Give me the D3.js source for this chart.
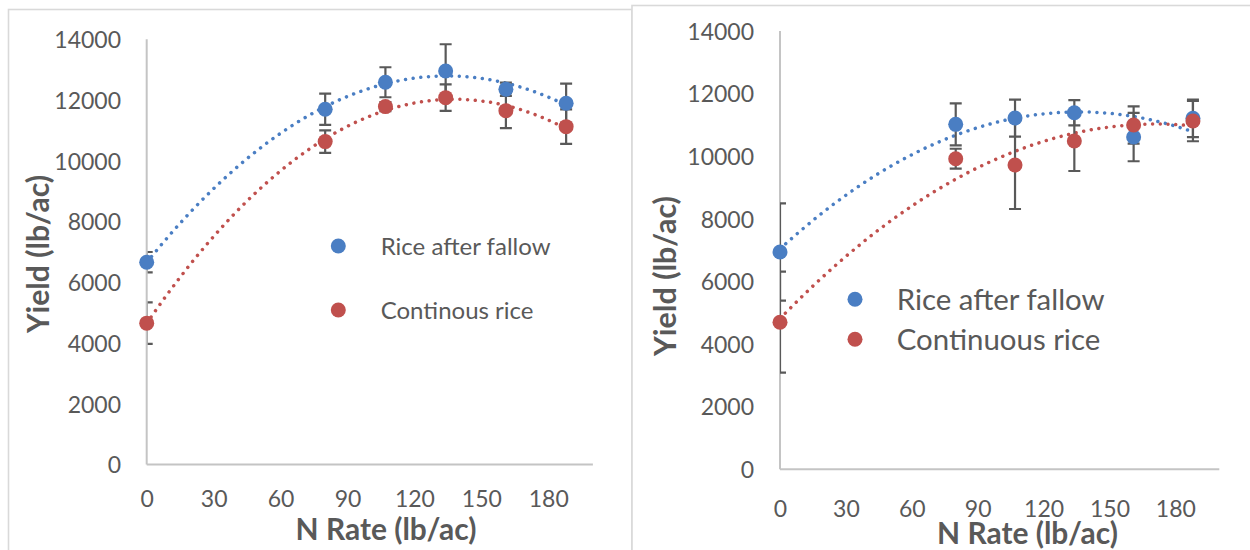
<!DOCTYPE html>
<html><head><meta charset="utf-8">
<script src="https://cdn.jsdelivr.net/npm/d3@7"></script>
<style>
html,body{margin:0;padding:0;background:#fff;}
svg{display:block;}
text{font-family:Lato,"Open Sans",sans-serif;fill:#595959;}
</style></head>
<body>
<svg id="c" width="1250" height="550"></svg>
<script>
// ---- data ----
const nRate = [0, 80, 107, 134, 161, 188];
const xTicks = [0, 30, 60, 90, 120, 150, 180];
const yTicks = [0, 2000, 4000, 6000, 8000, 10000, 12000, 14000];

const leftFallow     = [6663, 11698, 12586, 12958, 12356, 11895];
const leftFallowErr  = [336, 517, 494, 879, 217, 645];
const leftCont       = [4656, 10632, 11784, 12080, 11652, 11125];
const leftContErr    = [681, 372, 150, 438, 579, 569];
const leftLegend     = ["Rice after fallow", "Continous rice"];

const rightFallow    = [6940, 11019, 11220, 11389, 10613, 11210];
const rightFallowErr = [1555, 671, 591, 406, 773, 600];
const rightCont      = [4698, 9920, 9719, 10486, 10997, 11124];
const rightContErr   = [1613, 319, 1405, 958, 597, 645];
const rightLegend    = ["Rice after fallow", "Continuous rice"];

const xTitle = "N Rate (lb/ac)";
const yTitle = "Yield (lb/ac)";
const colors = ["#4a7ec3", "#c0504d"];

// ---- helpers ----
function quadFit(xs, ys) {
  let n = xs.length, s = [0,0,0,0,0], t = [0,0,0];
  for (let i = 0; i < n; i++) {
    const x = xs[i], y = ys[i];
    for (let k = 0; k < 5; k++) s[k] += Math.pow(x, k);
    for (let k = 0; k < 3; k++) t[k] += y * Math.pow(x, k);
  }
  const A = [[s[0],s[1],s[2],t[0]],[s[1],s[2],s[3],t[1]],[s[2],s[3],s[4],t[2]]];
  for (let i = 0; i < 3; i++) {
    for (let j = i+1; j < 3; j++) {
      const f = A[j][i] / A[i][i];
      for (let k = i; k < 4; k++) A[j][k] -= f * A[i][k];
    }
  }
  const c = [0,0,0];
  for (let i = 2; i >= 0; i--) {
    let v = A[i][3];
    for (let k = i+1; k < 3; k++) v -= A[i][k] * c[k];
    c[i] = v / A[i][i];
  }
  return x => c[0] + c[1]*x + c[2]*x*x;
}
// scale a text's font so that its length matches a target width
function fitSize(sel, fs, target) {
  sel.attr("font-size", fs);
  const w = sel.node().getComputedTextLength();
  const nfs = w > 0 ? fs * target / w : fs;
  sel.attr("font-size", nfs);
  return nfs;
}

const svg = d3.select("#c");

// frames
svg.append("rect").attr("x", 8.5).attr("y", 9.5).attr("width", 623.5).attr("height", 560)
  .attr("fill", "#fff").attr("stroke", "#d9d9d9").attr("stroke-width", 1.6);
svg.append("rect").attr("x", 632).attr("y", 5.5).attr("width", 640).attr("height", 560)
  .attr("fill", "#fff").attr("stroke", "#d9d9d9").attr("stroke-width", 1.6);

function chart(cfg) {
  const g = svg.append("g");
  const x = d3.scaleLinear().domain([0, 200]).range([cfg.x0, cfg.x1]);
  const y = d3.scaleLinear().domain([0, 14000]).range([cfg.y0, cfg.y1]);
  const clipId = "clip" + cfg.id;
  g.append("clipPath").attr("id", clipId).append("rect")
    .attr("x", cfg.x0).attr("y", cfg.y1 - 20).attr("width", cfg.x1 - cfg.x0).attr("height", cfg.y0 - cfg.y1 + 20);

  // y tick labels
  const ya = d3.axisLeft(y).tickValues(yTicks).tickSize(0).tickPadding(0).tickFormat(d3.format("d"));
  const yg = g.append("g").attr("transform", `translate(${cfg.yLabX},0)`).call(ya);
  yg.select(".domain").remove();
  yg.selectAll("text").attr("font-size", cfg.tickFs).attr("fill", "#595959")
    .style("font-family", "Lato").attr("dy", "0.36em").attr("x", 0);

  // x tick labels
  const xa = d3.axisBottom(x).tickValues(xTicks).tickSize(0).tickPadding(0);
  const xg = g.append("g").attr("transform", `translate(0,${cfg.xLabY})`).call(xa);
  xg.select(".domain").remove();
  xg.selectAll("text").attr("font-size", cfg.tickFs).attr("fill", "#595959")
    .style("font-family", "Lato").attr("dy", "0.36em").attr("y", 0);

  const axisLines = () => {
    g.append("line").attr("x1", cfg.x0).attr("x2", cfg.x0).attr("y1", cfg.y1).attr("y2", cfg.y0)
      .attr("stroke", "#c4c4c4").attr("stroke-width", 2);
    g.append("line").attr("x1", cfg.x0).attr("x2", cfg.x1).attr("y1", cfg.y0).attr("y2", cfg.y0)
      .attr("stroke", "#c4c4c4").attr("stroke-width", 2);
  };
  if (!cfg.axisOnTop) axisLines();

  const series = [
    {v: cfg.fallow, e: cfg.fallowErr, c: colors[0]},
    {v: cfg.cont, e: cfg.contErr, c: colors[1]}
  ];

  // trendlines (2nd order polynomial fit of each series)
  series.forEach(s => {
    const f = quadFit(nRate, s.v);
    const pts = d3.range(0, 188.01, 1);
    g.append("path")
      .attr("d", d3.line().x(d => x(d)).y(d => y(f(d)))(pts))
      .attr("fill", "none").attr("stroke", s.c).attr("stroke-width", 3.5)
      .attr("stroke-linecap", "round").attr("stroke-dasharray", "0.01 7.7");
  });

  // error bars
  const eb = g.append("g").attr("clip-path", `url(#${clipId})`)
    .attr("stroke", "#595959").attr("stroke-width", 2.2);
  series.forEach(s => {
    nRate.forEach((n, i) => {
      const cx = x(n), yt = y(s.v[i] + s.e[i]), yb = y(s.v[i] - s.e[i]);
      eb.append("line").attr("x1", cx).attr("x2", cx).attr("y1", yt).attr("y2", yb);
      eb.append("line").attr("x1", cx - 6).attr("x2", cx + 6).attr("y1", yt).attr("y2", yt);
      eb.append("line").attr("x1", cx - 6).attr("x2", cx + 6).attr("y1", yb).attr("y2", yb);
    });
  });
  if (cfg.axisOnTop) axisLines();

  // markers
  series.forEach(s => {
    g.selectAll(null).data(nRate).enter().append("circle")
      .attr("cx", d => x(d)).attr("cy", (d, i) => y(s.v[i])).attr("r", 7.5).attr("fill", s.c);
  });

  // titles
  const xt = g.append("text").attr("x", cfg.xtX).attr("y", cfg.xtY).attr("text-anchor", "middle")
    .attr("font-weight", "bold").text(xTitle);
  fitSize(xt, 28, cfg.xtW);
  const yt = g.append("text").attr("transform", `translate(${cfg.ytX},${cfg.ytY}) rotate(-90)`)
    .attr("text-anchor", "middle").attr("dy", "0.35em")
    .attr("font-weight", "bold").text(yTitle);
  fitSize(yt, 28, cfg.ytW);

  // legend
  let lfs = null;
  cfg.legend.forEach((t, i) => {
    g.append("circle").attr("cx", cfg.lgX).attr("cy", cfg.lgY + i * cfg.lgGap).attr("r", 7.5).attr("fill", colors[i]);
    const lt = g.append("text").attr("x", cfg.lgTX).attr("y", cfg.lgY + i * cfg.lgGap).attr("dy", "0.36em").text(t);
    if (lfs === null) lfs = fitSize(lt, 24, cfg.lgW); else lt.attr("font-size", lfs);
  });
}

chart({id: "L", x0: 146.7, x1: 592.9, y0: 464.6, y1: 39.3, yLabX: 121, xLabY: 499, tickFs: 23,
  fallow: leftFallow, fallowErr: leftFallowErr, cont: leftCont, contErr: leftContErr,
  xtX: 386, xtY: 540, xtW: 181, ytX: 38, ytY: 254, ytW: 158, axisOnTop: true,
  legend: leftLegend, lgX: 338.3, lgY: 246, lgGap: 64, lgTX: 380.7, lgW: 170});

chart({id: "R", x0: 780, x1: 1219.3, y0: 469.3, y1: 31, yLabX: 754, xLabY: 509, tickFs: 23,
  fallow: rightFallow, fallowErr: rightFallowErr, cont: rightCont, contErr: rightContErr,
  xtX: 1027.5, xtY: 544, xtW: 181, ytX: 665, ytY: 276, ytW: 160, axisOnTop: false,
  legend: rightLegend, lgX: 855, lgY: 299.3, lgGap: 40, lgTX: 896.7, lgW: 208});
</script>
</body></html>
